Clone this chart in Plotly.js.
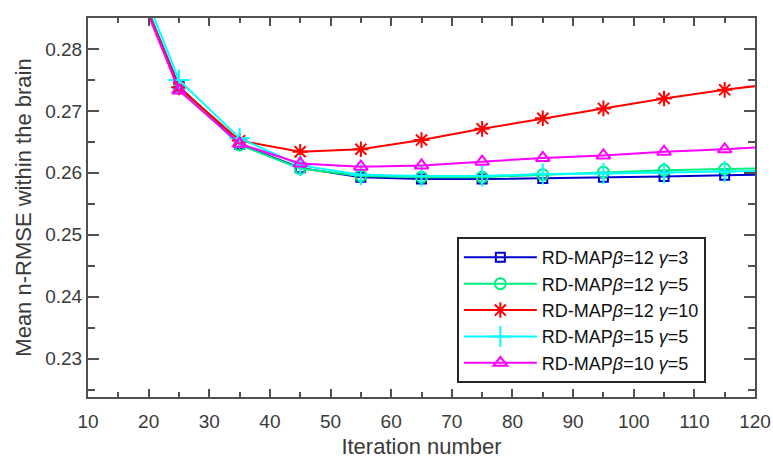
<!DOCTYPE html>
<html>
<head>
<meta charset="utf-8">
<script src="https://cdn.plot.ly/plotly-3.0.1.min.js"></script>
<style>html,body{margin:0;padding:0;background:#fff;}#chart{width:773px;height:459px;}</style>
</head>
<body>
<div id="chart"></div>
<script>
const iterations = [15, 25, 35, 45, 55, 65, 75, 85, 95, 105, 115, 125];
const seriesNames = [
  "RD-MAP<i>β</i>=12 <i>γ</i>=3",
  "RD-MAP<i>β</i>=12 <i>γ</i>=5",
  "RD-MAP<i>β</i>=12 <i>γ</i>=10",
  "RD-MAP<i>β</i>=15 <i>γ</i>=5",
  "RD-MAP<i>β</i>=10 <i>γ</i>=5"
];
const b12g3  = [0.2980, 0.2740, 0.2646, 0.2608, 0.2593, 0.2590, 0.2590, 0.2591, 0.2593, 0.2594, 0.2596, 0.2598];
const b12g5  = [0.2980, 0.2737, 0.2645, 0.2607, 0.2595, 0.2593, 0.2593, 0.2597, 0.2601, 0.2604, 0.2606, 0.2608];
const b12g10 = [0.2975, 0.2738, 0.2652, 0.2634, 0.2638, 0.2653, 0.2671, 0.2688, 0.2704, 0.2720, 0.2734, 0.2746];
const b15g5  = [0.2995, 0.2750, 0.2656, 0.2612, 0.2597, 0.2595, 0.2595, 0.2598, 0.2599, 0.2600, 0.2602, 0.2604];
const b10g5  = [0.2975, 0.2733, 0.2647, 0.2615, 0.2610, 0.2612, 0.2618, 0.2624, 0.2628, 0.2634, 0.2638, 0.2644];

const values = [b12g3, b12g5, b12g10, b15g5, b10g5];
const colors = ["#0000cc", "#00ee80", "#ff0000", "#00ffff", "#ff00ff"];
const symbols = ["square-open", "circle-open", "asterisk-open", "cross-thin-open", "triangle-up-open"];
const sizes = [9, 11, 13, 15, 12];

const traces = values.map((v, i) => ({
  type: "scatter",
  mode: "lines+markers",
  x: iterations,
  y: v,
  name: seriesNames[i],
  line: {color: colors[i], width: 2},
  marker: {symbol: symbols[i], size: sizes[i], color: colors[i], line: {color: colors[i], width: 2}},
  cliponaxis: true
}));

const axisCommon = {
  showline: true, linecolor: "#505050", linewidth: 2, mirror: "ticks",
  ticks: "inside", tickcolor: "#505050", tickwidth: 2,
  showgrid: false, zeroline: false,
  tickfont: {family: "Liberation Sans, Arial, sans-serif", size: 19, color: "#3a3a3a"}
};

const layout = {
  width: 773, height: 459,
  margin: {l: 88, r: 18, t: 18, b: 62},
  paper_bgcolor: "#ffffff", plot_bgcolor: "#ffffff",
  showlegend: true,
  xaxis: Object.assign({}, axisCommon, {
    range: [10, 120], dtick: 10, tick0: 10, ticklen: 8, ticklabelstandoff: 6,
    minor: {dtick: 5, ticklen: 5, ticks: "inside", tickcolor: "#505050", tickwidth: 2},
    title: {text: "Iteration number", font: {family: "Liberation Sans, Arial, sans-serif", size: 22, color: "#3a3a3a"}, standoff: 9}
  }),
  yaxis: Object.assign({}, axisCommon, {
    range: [0.2238, 0.285], dtick: 0.01, tick0: 0.2, ticklen: 11, tickformat: ".2f",
    minor: {dtick: 0.005, ticklen: 7, ticks: "inside", tickcolor: "#505050", tickwidth: 2},
    title: {text: "Mean n-RMSE within the brain", font: {family: "Liberation Sans, Arial, sans-serif", size: 22, color: "#3a3a3a"}, standoff: 8}
  }),
  legend: {
    x: 0.553, y: 0.422, xanchor: "left", yanchor: "top",
    bgcolor: "#ffffff", bordercolor: "#262626", borderwidth: 2,
    font: {family: "Liberation Sans, Arial, sans-serif", size: 18, color: "#111111"},
    itemwidth: 73, tracegroupgap: 0
  }
};

Plotly.newPlot("chart", traces, layout, {displayModeBar: false, staticPlot: true});
</script>
</body>
</html>
